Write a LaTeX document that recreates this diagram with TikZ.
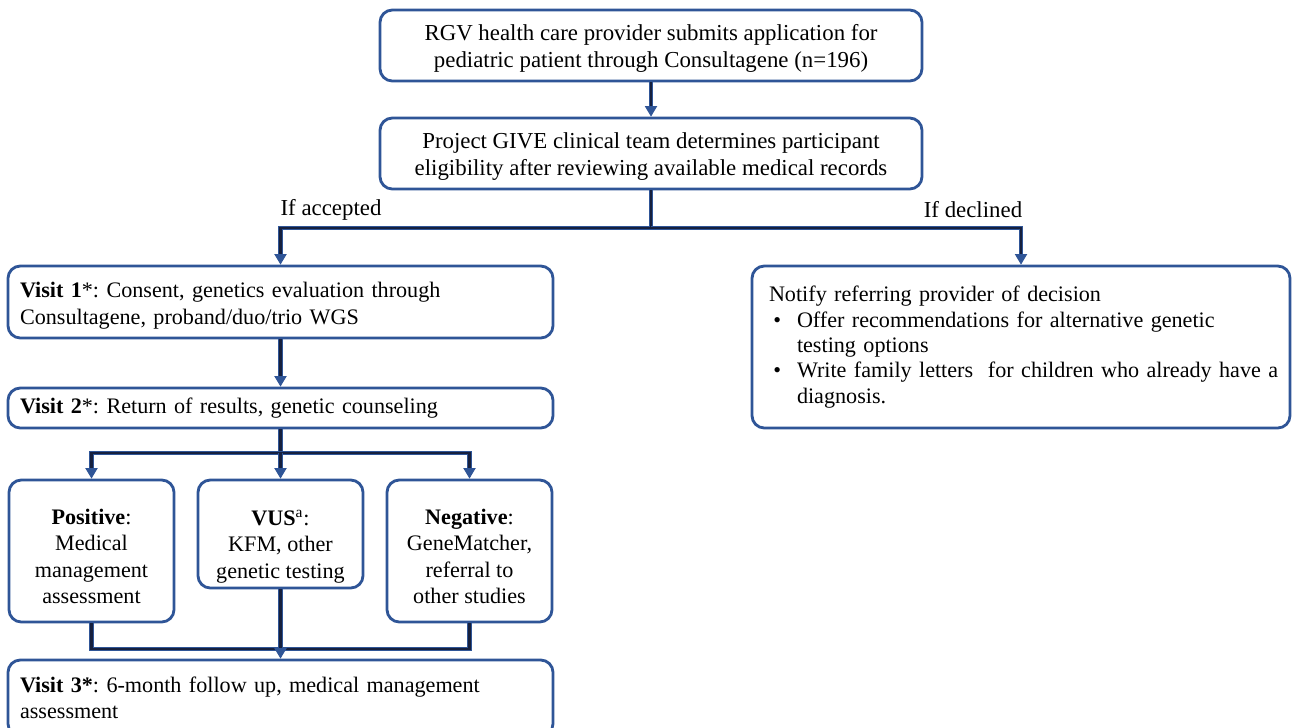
\documentclass[tikz,border=0pt]{standalone}
\usepackage{fontspec}
\setmainfont{Liberation Serif}
\usepackage{enumitem}
\usetikzlibrary{positioning, arrows.meta}
\definecolor{boxblue}{RGB}{47,85,151}
\definecolor{linenavy}{RGB}{22,32,62}

\begin{document}
\frenchspacing
\begin{tikzpicture}[on grid, node distance=1cm, >={Triangle[length=6pt, width=7pt, color=boxblue]}]
      \tikzstyle{box}=[draw=boxblue, line width=1.6pt, rounded corners=7pt, fill=white, inner sep=0pt, font=\fontsize{12.6}{15.1}\selectfont]
      \tikzstyle{bigbox}=[box, align=center, minimum width=10.84cm, minimum height=1.42cm, font=\fontsize{13}{15.4}\selectfont]
      \tikzstyle{visit}=[box, align=left, text width=10.42cm, inner xsep=0.24cm]
      \tikzstyle{result}=[box, align=center, minimum width=3.3cm]
      \tikzstyle{link}=[draw=boxblue, line width=0.55pt, double=linenavy, double distance=1.2pt]
      \tikzstyle{tag}=[font=\fontsize{13}{15.4}\selectfont]

      \useasboundingbox (0,0) rectangle (25.84,-14.54);

      % Nodes
      \node[bigbox] (apply) at (13.02,-0.91)
        {\rule{0pt}{0.42cm}RGV health care provider submits application for\\pediatric patient through Consultagene (n=196)};
      \node[bigbox] (review) [below=2.16cm of apply]
        {\rule{0pt}{0.42cm}Project GIVE clinical team determines participant\\eligibility after reviewing available medical records};
      \node[visit, minimum height=1.44cm] (visit1) at (5.61,-6.04)
        {\rule{0pt}{0.46cm}\textbf{Visit 1}*: Consent, genetics evaluation through\\Consultagene, proband/duo/trio WGS};
      \node[box, align=left, text width=10.3cm, inner xsep=0.23cm, minimum height=3.24cm, font=\fontsize{12.6}{14.4}\selectfont] (declined) at (20.42,-6.94)
        {\hspace*{0.11cm}Notify referring provider of decision
         \begin{itemize}[nosep, leftmargin=0.67cm, labelsep=0.32cm, label=\textbullet]
           \item Offer recommendations for alternative genetic\newline testing options
           \item Write family letters\ \ for children who already have a\newline diagnosis.
         \end{itemize}};
      \node[visit, minimum height=0.8cm] (visit2) [below=2.12cm of visit1]
        {\textbf{Visit 2}*: Return of results, genetic counseling};
      \node[result, minimum height=2.16cm] (vus) [below=2.52cm of visit2]
        {\rule{0pt}{0.8cm}\textbf{VUS}\textsuperscript{a}:\\KFM, other\\genetic testing};
      \node[result, minimum height=2.84cm] (pos) [left=3.78cm of vus, yshift=-0.34cm]
        {\rule{0pt}{0.52cm}\textbf{Positive}:\\Medical\\management\\assessment};
      \node[result, minimum height=2.84cm] (neg) [right=3.78cm of vus, yshift=-0.34cm]
        {\rule{0pt}{0.52cm}\textbf{Negative}:\\GeneMatcher,\\referral to\\other studies};
      \node[visit, minimum height=1.52cm] (visit3) at (5.61,-13.96)
        {\textbf{Visit 3*}: 6-month follow up, medical management\\assessment};

      \node[tag] (accepted) at (6.62,-4.2) {If accepted};
      \node[tag] (refused) at (19.46,-4.2) {If declined};

      % Edges
      \draw[link, ->] (apply) -- (review);
      \draw[link, ->] (review.south) -- ++(0,-0.76) coordinate (split) -| (visit1.north);
      \draw[link, ->] (split) -| (declined.north);
      \draw[link, ->] (visit1) -- (visit2);
      \draw[link] (visit2.south) -- ++(0,-0.48) coordinate (fork);
      \draw[link, ->] (fork) -| (pos.north);
      \draw[link, ->] (fork) -| (neg.north);
      \draw[link, ->] (fork) -- (vus.north);
      \draw[link] (pos.south) -- ++(0,-0.52) -| (neg.south);
      \draw[link, ->] (vus.south) -- (visit3.north);
\end{tikzpicture}
\end{document}
